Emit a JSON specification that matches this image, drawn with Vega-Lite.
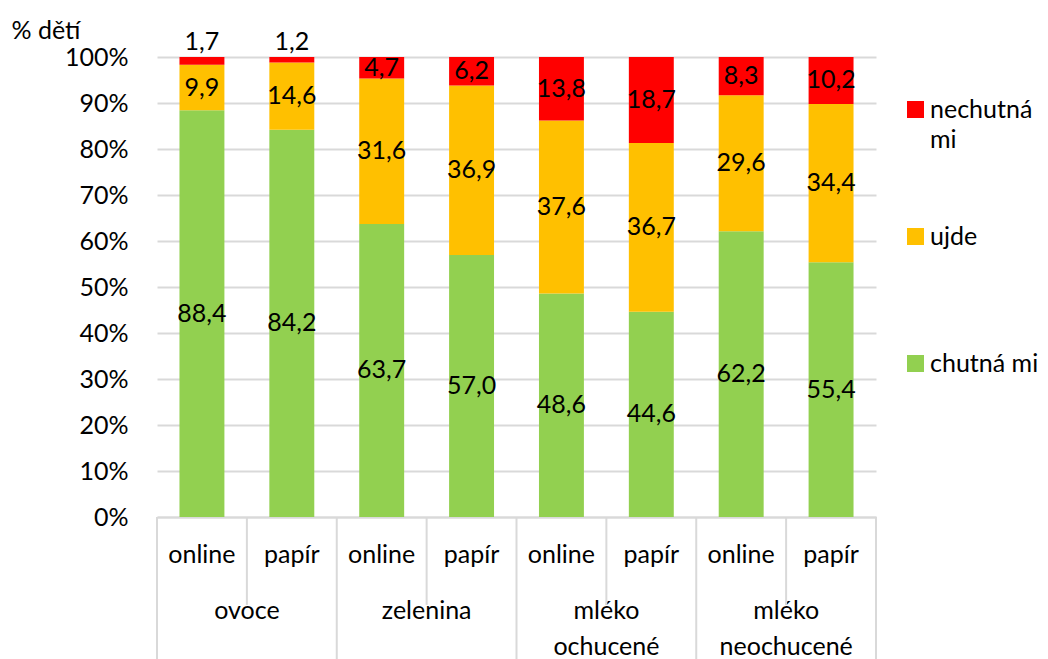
{
  "$schema": "https://vega.github.io/schema/vega-lite/v6.json",
  "autosize": {"type": "none"},
  "padding": {"left": 157, "top": 57, "right": 172, "bottom": 142},
  "width": 719,
  "height": 460,
  "config": {
    "font": "Lato",
    "view": {"stroke": null},
    "style": {"guide-label": {"lineHeight": 30}}
  },
  "data": {"values": [
    {"group": "ovoce", "sub": "online", "cat": "chutná mi", "value": 88.4},
    {"group": "ovoce", "sub": "online", "cat": "ujde", "value": 9.9},
    {"group": "ovoce", "sub": "online", "cat": "nechutná mi", "value": 1.7},
    {"group": "ovoce", "sub": "papír", "cat": "chutná mi", "value": 84.2},
    {"group": "ovoce", "sub": "papír", "cat": "ujde", "value": 14.6},
    {"group": "ovoce", "sub": "papír", "cat": "nechutná mi", "value": 1.2},
    {"group": "zelenina", "sub": "online", "cat": "chutná mi", "value": 63.7},
    {"group": "zelenina", "sub": "online", "cat": "ujde", "value": 31.6},
    {"group": "zelenina", "sub": "online", "cat": "nechutná mi", "value": 4.7},
    {"group": "zelenina", "sub": "papír", "cat": "chutná mi", "value": 57.0},
    {"group": "zelenina", "sub": "papír", "cat": "ujde", "value": 36.9},
    {"group": "zelenina", "sub": "papír", "cat": "nechutná mi", "value": 6.2},
    {"group": "mléko ochucené", "sub": "online", "cat": "chutná mi", "value": 48.6},
    {"group": "mléko ochucené", "sub": "online", "cat": "ujde", "value": 37.6},
    {"group": "mléko ochucené", "sub": "online", "cat": "nechutná mi", "value": 13.8},
    {"group": "mléko ochucené", "sub": "papír", "cat": "chutná mi", "value": 44.6},
    {"group": "mléko ochucené", "sub": "papír", "cat": "ujde", "value": 36.7},
    {"group": "mléko ochucené", "sub": "papír", "cat": "nechutná mi", "value": 18.7},
    {"group": "mléko neochucené", "sub": "online", "cat": "chutná mi", "value": 62.2},
    {"group": "mléko neochucené", "sub": "online", "cat": "ujde", "value": 29.6},
    {"group": "mléko neochucené", "sub": "online", "cat": "nechutná mi", "value": 8.3},
    {"group": "mléko neochucené", "sub": "papír", "cat": "chutná mi", "value": 55.4},
    {"group": "mléko neochucené", "sub": "papír", "cat": "ujde", "value": 34.4},
    {"group": "mléko neochucené", "sub": "papír", "cat": "nechutná mi", "value": 10.2}
  ]},
  "transform": [
    {"calculate": "datum.group + '|' + datum.sub", "as": "key"},
    {"calculate": "indexof(['chutná mi','ujde','nechutná mi'], datum.cat)", "as": "ord"},
    {"stack": "value", "groupby": ["key"], "sort": [{"field": "ord", "order": "ascending"}], "offset": "normalize", "as": ["y0", "y1"]},
    {"calculate": "datum.value < 2 ? 1.033 : (datum.y0 + datum.y1) / 2", "as": "mid"},
    {"calculate": "replace(format(datum.value, '.1f'), '.', ',')", "as": "lbl"}
  ],
  "layer": [
    {
      "mark": {"type": "bar"},
      "encoding": {
        "x": {
          "field": "key", "type": "nominal",
          "scale": {
            "domain": ["ovoce|online", "ovoce|papír", "zelenina|online", "zelenina|papír", "mléko ochucené|online", "mléko ochucené|papír", "mléko neochucené|online", "mléko neochucené|papír"],
            "paddingInner": 0.5, "paddingOuter": 0.25
          },
          "axis": {
            "title": null,
            "labelExpr": "split(datum.value, '|')[1]",
            "labelAngle": 0,
            "labelFontSize": 25,
            "labelColor": "#000000",
            "labelBaseline": "top",
            "domainColor": "#d9d9d9",
            "domainWidth": 2,
            "ticks": false,
            "labelPadding": 25
          }
        },
        "y": {
          "field": "y0", "type": "quantitative",
          "scale": {"domain": [0, 1]},
          "axis": {
            "format": ".0%",
            "values": [0, 0.1, 0.2, 0.3, 0.4, 0.5, 0.6, 0.7, 0.8, 0.9, 1],
            "labelFontSize": 25,
            "labelColor": "#000000",
            "labelPadding": 29,
            "ticks": false,
            "domain": false,
            "gridColor": "#d9d9d9",
            "gridWidth": 2,
            "title": "% dětí",
            "titleAngle": 0,
            "titleAlign": "left",
            "titleBaseline": "middle",
            "titleFontSize": 25,
            "titleFontWeight": "normal",
            "titleColor": "#000000",
            "titleX": -146,
            "titleY": -27
          }
        },
        "y2": {"field": "y1"},
        "color": {
          "field": "cat", "type": "nominal",
          "scale": {"domain": ["nechutná mi", "ujde", "chutná mi"], "range": ["#FF0000", "#FFC000", "#92D050"]},
          "legend": {
            "title": null,
            "orient": "none",
            "legendX": 746,
            "legendY": 40,
            "symbolType": "square",
            "symbolSize": 289,
            "symbolStrokeWidth": 0,
            "labelFontSize": 25,
            "labelColor": "#000000",
            "labelOffset": 2,
            "rowPadding": 71,
            "labelExpr": "datum.label == 'nechutná mi' ? ['nechutná', 'mi'] : [datum.label, '']"
          }
        }
      }
    },
    {
      "mark": {"type": "text", "fontSize": 25, "color": "#000000", "baseline": "middle"},
      "encoding": {
        "x": {"field": "key", "type": "nominal"},
        "y": {"field": "mid", "type": "quantitative"},
        "text": {"field": "lbl"}
      }
    },
    {
      "data": {"values": [
        {"group": "ovoce"},
        {"group": "zelenina"},
        {"group": "mléko ochucené"},
        {"group": "mléko neochucené"}
      ]},
      "transform": [
        {"calculate": "datum.group + '|online'", "as": "key"},
        {"calculate": "datum.group + '|papír'", "as": "keyp"}
      ],
      "layer": [
        {
          "mark": {"type": "text", "fontSize": 25, "color": "#000000", "baseline": "top", "dx": 45, "lineBreak": " ", "lineHeight": 36},
          "encoding": {
            "x": {"field": "key", "type": "nominal"},
            "y": {"datum": -0.178},
            "text": {"field": "group"}
          }
        },
        {
          "mark": {"type": "rule", "color": "#d9d9d9", "strokeWidth": 2},
          "encoding": {
            "x": {"field": "key", "type": "nominal", "bandPosition": -0.5},
            "y": {"datum": 0},
            "y2": {"datum": -0.309}
          }
        },
        {
          "mark": {"type": "rule", "color": "#d9d9d9", "strokeWidth": 2},
          "encoding": {
            "x": {"field": "keyp", "type": "nominal", "bandPosition": -0.5},
            "y": {"datum": 0},
            "y2": {"datum": -0.191}
          }
        }
      ]
    },
    {
      "data": {"values": [{"key": "mléko neochucené|papír"}]},
      "mark": {"type": "rule", "color": "#d9d9d9", "strokeWidth": 2},
      "encoding": {
        "x": {"field": "key", "type": "nominal", "bandPosition": 1.5},
        "y": {"datum": 0},
        "y2": {"datum": -0.309}
      }
    }
  ]
}
